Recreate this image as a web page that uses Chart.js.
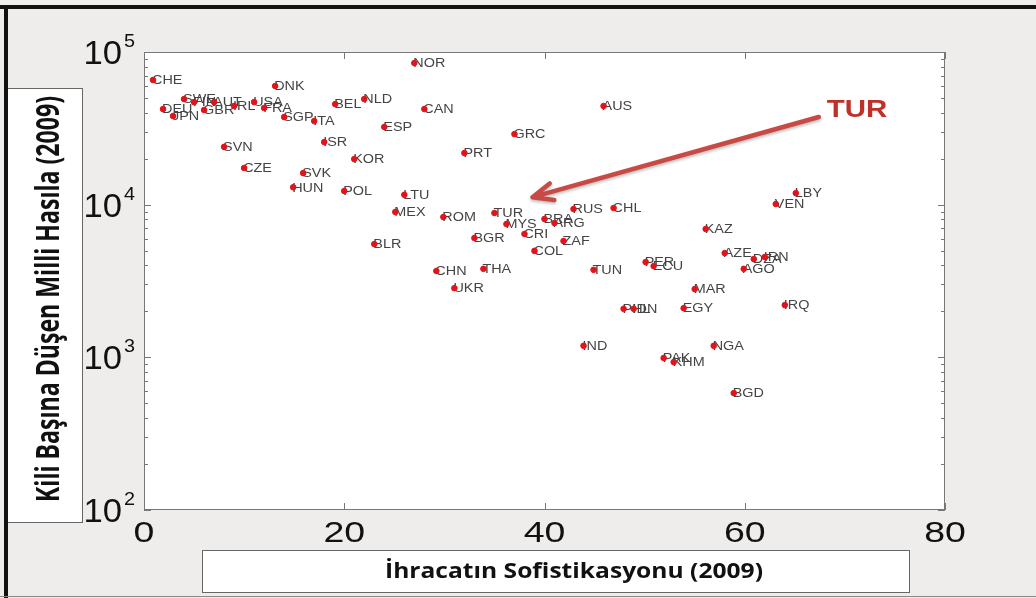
<!DOCTYPE html>
<html>
<head>
<meta charset="utf-8">
<script src="https://cdn.jsdelivr.net/npm/chart.js@4"></script>
<style>
  html, body { margin: 0; padding: 0; background: #efedeb; }
</style>
</head>
<body>
<canvas id="chart" width="1036" height="598"></canvas>
<script>
// Data (x: export sophistication, y: GDP per capita, 2009)
const countries = ['CHE','SWE','FIN','AUT','IRL','USA','FRA','GBR','DEU','JPN','DNK','SGP','ITA','BEL','NLD','NOR','CAN','ESP','ISR','KOR','SVN','CZE','SVK','HUN','POL','LTU','MEX','BLR','AUS','GRC','PRT','ROM','TUR','MYS','BRA','ARG','RUS','CHL','BGR','CRI','ZAF','COL','CHN','THA','UKR','TUN','PER','ECU','PHL','IDN','LBY','VEN','KAZ','AZE','IRN','DZA','AGO','MAR','EGY','IRQ','IND','NGA','PAK','KHM','BGD'];
const sophistication = [0.9,4.0,5.0,7.0,9.0,11.0,12.0,6.0,1.9,2.9,13.1,14.0,17.0,19.1,22.0,27.0,28.0,24.0,18.0,21.0,8.0,10.0,15.9,14.9,20.0,26.0,25.1,23.0,45.9,37.0,32.0,29.9,35.0,36.2,40.0,41.0,42.9,46.9,33.0,38.0,41.9,39.0,29.2,33.9,31.0,44.9,50.1,50.9,47.9,48.9,65.1,63.1,56.1,58.0,62.0,60.9,59.9,55.0,53.9,64.0,43.9,56.9,51.9,52.9,58.9];
const gdpPerCapita = [65600,49200,47000,47000,44300,47000,43000,41700,42300,38100,59900,37500,35300,45600,49200,84700,42300,32300,25700,19900,23900,17400,16100,13000,12300,11600,8960,5520,44300,29000,21800,8300,8820,7470,8060,7580,9370,9510,6050,6430,5780,4980,3680,3800,2840,3740,4210,3960,2080,2080,11900,10100,6930,4820,4540,4400,3800,2800,2100,2200,1190,1190,991,931,583];

const xTicks = [0, 20, 40, 60, 80];
const yTickExponents = [2, 3, 4, 5];
const xTitle = 'İhracatın Sofistikasyonu (2009)';
const yTitle = 'Kili Başına Düşen Milli Hasıla (2009)';

// arrow pointing at Turkey, in data units
const arrowTail = { x: 67.4, y: 37500 };
const arrowHead = { x: 38.8, y: 11200 };
const calloutText = 'TUR';

const points = countries.map((c, i) => ({ x: sophistication[i], y: gdpPerCapita[i], name: c }));

const TICK_FONT = "'Liberation Sans', Arial, sans-serif";
const TITLE_FONT = "'Open Sans', sans-serif";

// the source picture is a bit stretched sideways, so text is drawn widened
function wideText(ctx, str, px, py, sx) {
    ctx.save();
    ctx.translate(px, py);
    ctx.scale(sx, 1);
    ctx.fillText(str, 0, 0);
    ctx.restore();
}

function drawArrow(ctx, x1, y1, x2, y2) {
    const ang = Math.atan2(y2 - y1, x2 - x1);
    ctx.save();
    ctx.strokeStyle = '#c94a44';
    ctx.lineWidth = 4.5;
    ctx.lineCap = 'round';
    ctx.lineJoin = 'round';
    ctx.shadowColor = 'rgba(0,0,0,0.25)';
    ctx.shadowBlur = 3;
    ctx.shadowOffsetY = 2;
    ctx.beginPath();
    ctx.moveTo(x1, y1);
    ctx.lineTo(x2, y2);
    const len = 22, spread = 0.4;
    ctx.moveTo(x2 - len * Math.cos(ang - spread), y2 - len * Math.sin(ang - spread));
    ctx.lineTo(x2, y2);
    ctx.lineTo(x2 - len * Math.cos(ang + spread), y2 - len * Math.sin(ang + spread));
    ctx.stroke();
    ctx.restore();
}

const matlabFrame = {
    id: 'matlabFrame',
    beforeDraw(chart) {
        const { ctx, chartArea: a } = chart;
        ctx.save();
        ctx.fillStyle = '#efedeb';
        ctx.fillRect(0, 0, chart.width, chart.height);
        ctx.fillStyle = '#ffffff';
        ctx.fillRect(a.left, a.top, a.right - a.left, a.bottom - a.top);
        ctx.restore();
    },
    beforeDatasetsDraw(chart) {
        // country codes start right at the marker, like matlab text()
        const { ctx, scales: { x, y } } = chart;
        ctx.save();
        ctx.font = "12px " + TICK_FONT;
        ctx.fillStyle = '#444';
        ctx.textBaseline = 'middle';
        ctx.textAlign = 'left';
        points.forEach(p => {
            wideText(ctx, p.name, x.getPixelForValue(p.x) - 1, y.getPixelForValue(p.y) + 1, 1.2);
        });
        ctx.restore();
    },
    afterDraw(chart) {
        const { ctx, chartArea: a, scales: { x, y } } = chart;
        ctx.save();

        // axes box
        ctx.strokeStyle = '#777';
        ctx.lineWidth = 1;
        ctx.strokeRect(a.left + 0.5, a.top + 0.5, a.right - a.left - 1, a.bottom - a.top - 1);

        // inward ticks
        ctx.beginPath();
        xTicks.forEach(v => {
            const px = Math.round(x.getPixelForValue(v)) + 0.5;
            ctx.moveTo(px, a.bottom); ctx.lineTo(px, a.bottom - 7);
            ctx.moveTo(px, a.top); ctx.lineTo(px, a.top + 7);
        });
        yTickExponents.forEach((e, k) => {
            for (let m = 1; m <= 9; m++) {
                if (m > 1 && k === yTickExponents.length - 1) break;
                const py = Math.round(y.getPixelForValue(m * Math.pow(10, e))) + 0.5;
                const len = m === 1 ? 7 : 4;
                ctx.moveTo(a.left, py); ctx.lineTo(a.left + len, py);
                ctx.moveTo(a.right, py); ctx.lineTo(a.right - len, py);
            }
        });
        ctx.stroke();

        // tick labels
        ctx.fillStyle = '#111';
        ctx.font = "30px " + TICK_FONT;
        ctx.textAlign = 'center';
        ctx.textBaseline = 'alphabetic';
        xTicks.forEach(v => wideText(ctx, String(v), x.getPixelForValue(v), a.bottom + 32, 1.25));

        yTickExponents.forEach(e => {
            const py = y.getPixelForValue(Math.pow(10, e));
            ctx.font = "33px " + TICK_FONT;
            ctx.textAlign = 'right';
            ctx.textBaseline = 'alphabetic';
            wideText(ctx, '10', a.left - 22, py + 12, 1.05);
            ctx.font = "18px " + TICK_FONT;
            ctx.textAlign = 'left';
            wideText(ctx, String(e), a.left - 20, py - 5, 1.1);
        });

        // y title box
        ctx.fillStyle = '#fff';
        ctx.fillRect(7, 88, 75, 434);
        ctx.strokeStyle = '#666';
        ctx.strokeRect(7.5, 88.5, 75, 434);
        ctx.save();
        ctx.translate(50, 299);
        ctx.rotate(-Math.PI / 2);
        ctx.font = "bold 32px " + TITLE_FONT;
        const wy = ctx.measureText(yTitle).width;
        ctx.scale(406 / wy, 1);
        ctx.fillStyle = '#111';
        ctx.textAlign = 'center';
        ctx.textBaseline = 'middle';
        ctx.fillText(yTitle, 0, 0);
        ctx.restore();

        // x title box
        ctx.fillStyle = '#fff';
        ctx.fillRect(202, 550, 707, 42);
        ctx.strokeStyle = '#666';
        ctx.strokeRect(202.5, 550.5, 707, 42);
        ctx.save();
        ctx.translate(574, 572);
        ctx.font = "bold 21px " + TITLE_FONT;
        const wx = ctx.measureText(xTitle).width;
        ctx.scale(378 / wx, 1);
        ctx.fillStyle = '#111';
        ctx.textAlign = 'center';
        ctx.textBaseline = 'middle';
        ctx.fillText(xTitle, 0, 0);
        ctx.restore();

        // callout arrow + label
        const tx = x.getPixelForValue(arrowTail.x), ty = y.getPixelForValue(arrowTail.y);
        drawArrow(ctx, tx, ty, x.getPixelForValue(arrowHead.x), y.getPixelForValue(arrowHead.y));
        ctx.font = "bold 23px " + TICK_FONT;
        ctx.fillStyle = '#c0302a';
        ctx.textAlign = 'left';
        ctx.textBaseline = 'middle';
        wideText(ctx, calloutText, tx + 8, ty - 6, 1.28);

        // outer frame: heavy top/left, thin bottom
        ctx.fillStyle = '#111';
        ctx.fillRect(0, 5, 1036, 4);
        ctx.fillRect(4, 5, 4, 593);
        ctx.fillStyle = '#888';
        ctx.fillRect(0, 596, 1036, 1);
        ctx.restore();
    }
};

new Chart(document.getElementById('chart').getContext('2d'), {
    type: 'scatter',
    data: {
        datasets: [{
            data: points,
            backgroundColor: '#e0141a',
            borderColor: '#e0141a',
            pointRadius: 2.8,
            pointStyle: 'circle'
        }, {
            data: points,
            borderColor: '#3a0a0a',
            borderWidth: 1,
            pointRadius: 2.2,
            pointStyle: 'cross'
        }]
    },
    options: {
        responsive: false,
        animation: false,
        devicePixelRatio: 1,
        layout: { padding: { left: 144, top: 52, right: 91, bottom: 88 } },
        plugins: { legend: { display: false }, tooltip: { enabled: false } },
        scales: {
            x: { type: 'linear', min: 0, max: 80, display: false },
            y: { type: 'logarithmic', min: 100, max: 100000, display: false }
        }
    },
    plugins: [matlabFrame]
});
</script>
</body>
</html>
